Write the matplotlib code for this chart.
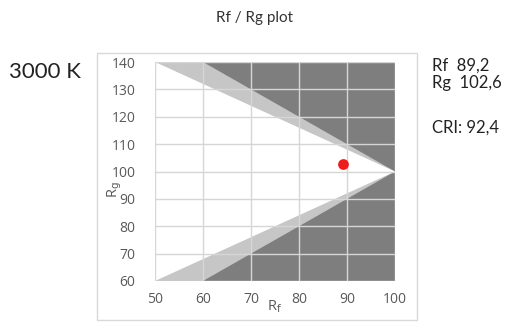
import matplotlib
matplotlib.use("Agg")
import matplotlib.pyplot as plt
from matplotlib.patches import Polygon, Rectangle

# data
rf_value = 89.2
rg_value = 102.6
cri_value = 92.4
cct_label = "3000 K"
x_ticks = [50, 60, 70, 80, 90, 100]
y_ticks = [60, 70, 80, 90, 100, 110, 120, 130, 140]
# outer limit (light band edge) and inner limit (white area edge)
outer_region = [(50, 140), (60, 140), (100, 100), (60, 60), (50, 60)]
inner_region = [(50, 140), (100, 100), (50, 60)]

W, H = 510, 323
fig = plt.figure(figsize=(W / 100, H / 100), dpi=100)
fig.patch.set_facecolor("white")

# frame around chart
fig.add_artist(Rectangle((97 / W, 1 - 320 / H), 320 / W, 267 / H,
                         transform=fig.transFigure, fill=False,
                         edgecolor="#d9d9d9", linewidth=1.0))

ax = fig.add_axes([155 / W, 1 - 281 / H, 240 / W, 219 / H])
ax.set_facecolor("#7e7e7e")
ax.add_patch(Polygon(outer_region, closed=True, facecolor="#c6c6c6", edgecolor="none", zorder=1))
ax.add_patch(Polygon(inner_region, closed=True, facecolor="white", edgecolor="none", zorder=1.5))
ax.set_xlim(50, 100)
ax.set_ylim(60, 140)
ax.set_xticks(x_ticks)
ax.set_yticks(y_ticks)
ax.grid(True, color="#d6d6d6", linewidth=1.0, zorder=2)
ax.set_axisbelow(False)
for s in ax.spines.values():
    s.set_visible(False)
ax.tick_params(length=0, labelsize=10, labelcolor="#595959", pad=8)
ax.tick_params(axis="y", pad=14)
for lab in ax.get_xticklabels() + ax.get_yticklabels():
    lab.set_fontfamily("Open Sans")

ax.scatter([rf_value], [rg_value], s=60, color="#ee1c1c", zorder=5, linewidths=0)

fig.text(275 / W, 1 - 307 / H, r"R$_\mathrm{f}$", ha="center", va="center",
         fontsize=10.5, color="#595959", family="Open Sans")
fig.text(115 / W, 1 - 190 / H, r"R$_\mathrm{g}$", ha="center", va="center",
         fontsize=10.5, color="#595959", family="Open Sans", rotation=90)

fig.text(255 / W, 1 - 18 / H, "Rf / Rg plot", ha="center", va="center",
         fontsize=11, color="#333333", family="Lato")
fig.text(9 / W, 1 - 72 / H, cct_label, ha="left", va="center",
         fontsize=16, color="#222222", family="Lato")

def fmt(v):
    return f"{v:.1f}".replace(".", ",")

fig.text(432 / W, 1 - 66 / H, f"Rf  {fmt(rf_value)}", ha="left", va="center",
         fontsize=12, color="#222222", family="Lato")
fig.text(432 / W, 1 - 83 / H, f"Rg  {fmt(rg_value)}", ha="left", va="center",
         fontsize=12, color="#222222", family="Lato")
fig.text(432 / W, 1 - 128 / H, f"CRI: {fmt(cri_value)}", ha="left", va="center",
         fontsize=12, color="#222222", family="Lato")

fig.savefig("out.png", dpi=100)
